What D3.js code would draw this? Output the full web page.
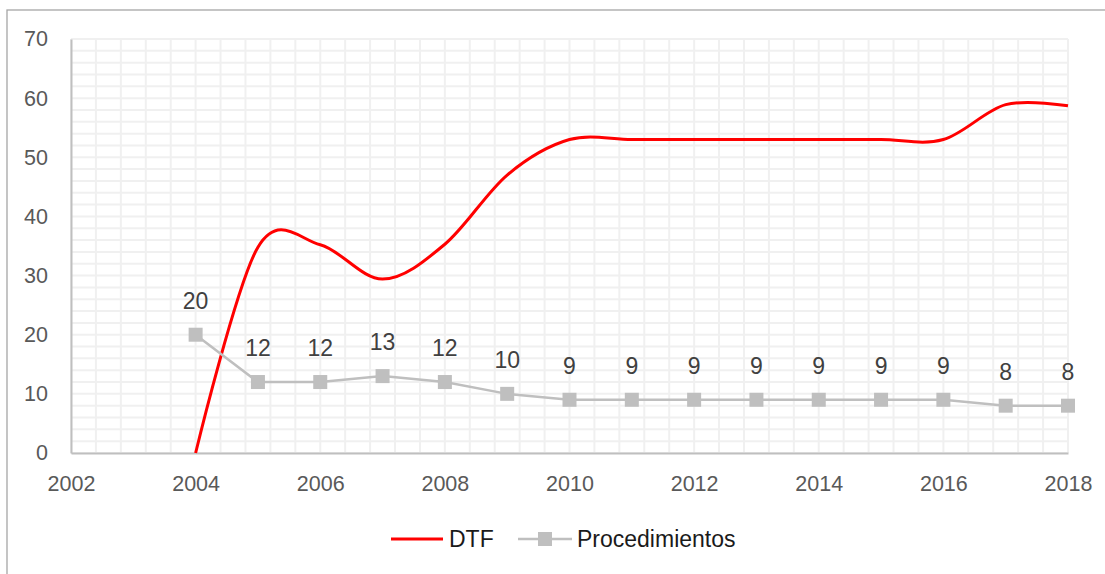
<!DOCTYPE html>
<html>
<head>
<meta charset="utf-8">
<script src="https://cdn.jsdelivr.net/npm/d3@7"></script>
<style>
  html, body { margin: 0; padding: 0; background: #fff; }
  svg { display: block; }
</style>
</head>
<body>
<svg id="chart" width="1105" height="574"></svg>
<script>
// Years shared by both series
const years = [2004, 2005, 2006, 2007, 2008, 2009, 2010, 2011, 2012, 2013, 2014, 2015, 2016, 2017, 2018];
// DTF series (smoothed line)
const dtf = [0, 34.8, 35.2, 29.4, 35.3, 47, 53, 53, 53, 53, 53, 53, 53, 58.9, 58.7];
// Número de procedimientos (labelled points)
const procedimientos = [20, 12, 12, 13, 12, 10, 9, 9, 9, 9, 9, 9, 9, 8, 8];
// Axis ticks
const xTicks = [2002, 2004, 2006, 2008, 2010, 2012, 2014, 2016, 2018];
const yTicks = [0, 10, 20, 30, 40, 50, 60, 70];
const seriesNames = ["DTF", "Procedimientos"];

const svg = d3.select("#chart");
const FONT = "'Liberation Sans', Arial, sans-serif";

// Outer chart frame
svg.append("rect")
  .attr("x", 7).attr("y", 10)
  .attr("width", 1120).attr("height", 620)
  .attr("fill", "#fff")
  .attr("stroke", "#a6a6a6").attr("stroke-width", 1.3);

const x = d3.scaleLinear().domain([2002, 2018]).range([71, 1068]);
const y = d3.scaleLinear().domain([0, 70]).range([453, 39]);

// Minor gridlines: every 0.4 year and every 2 units
const grid = svg.append("g").attr("stroke", "#f0f0f0").attr("stroke-width", 2);
grid.selectAll("line.v")
  .data(d3.range(0, 41).map(i => 2002 + i * 0.4))
  .join("line")
  .attr("x1", d => x(d)).attr("x2", d => x(d))
  .attr("y1", y(70)).attr("y2", y(0));
grid.selectAll("line.h")
  .data(d3.range(0, 36).map(i => i * 2))
  .join("line")
  .attr("x1", x(2002)).attr("x2", x(2018))
  .attr("y1", d => y(d)).attr("y2", d => y(d));

// Axes
const xAxis = svg.append("g")
  .attr("transform", `translate(0,${y(0)})`)
  .call(d3.axisBottom(x).tickValues(xTicks).tickFormat(d3.format("d")).tickSize(0).tickPadding(23));
const yAxis = svg.append("g")
  .attr("transform", `translate(${x(2002)},0)`)
  .call(d3.axisLeft(y).tickValues(yTicks).tickSize(0).tickPadding(23));
[xAxis, yAxis].forEach(a => {
  a.select(".domain").attr("stroke", "#bfbfbf").attr("stroke-width", 2);
  a.selectAll("text")
    .attr("font-family", FONT).attr("font-size", 21.5)
    .attr("fill", "#595959");
});

// DTF smoothed line
const dtfLine = d3.line()
  .x((d, i) => x(years[i]))
  .y(d => y(d))
  .curve(d3.curveCardinal.tension(0));
svg.append("path")
  .datum(dtf)
  .attr("fill", "none")
  .attr("stroke", "#ff0000")
  .attr("stroke-width", 3)
  .attr("d", dtfLine);

// Procedimientos line with square markers
const procLine = d3.line()
  .x((d, i) => x(years[i]))
  .y(d => y(d));
svg.append("path")
  .datum(procedimientos)
  .attr("fill", "none")
  .attr("stroke", "#bfbfbf")
  .attr("stroke-width", 2.5)
  .attr("d", procLine);

const ms = 14;
svg.selectAll("rect.marker")
  .data(procedimientos)
  .join("rect")
  .attr("class", "marker")
  .attr("x", (d, i) => x(years[i]) - ms / 2)
  .attr("y", d => y(d) - ms / 2)
  .attr("width", ms).attr("height", ms)
  .attr("fill", "#bfbfbf");

svg.selectAll("text.dlabel")
  .data(procedimientos)
  .join("text")
  .attr("class", "dlabel")
  .attr("x", (d, i) => x(years[i]))
  .attr("y", d => y(d) - 26)
  .attr("text-anchor", "middle")
  .attr("font-family", FONT).attr("font-size", 23)
  .attr("fill", "#404040")
  .text(d => d);

// Legend
const legY = 539;
const leg = svg.append("g");
leg.append("line")
  .attr("x1", 391).attr("x2", 443).attr("y1", legY).attr("y2", legY)
  .attr("stroke", "#ff0000").attr("stroke-width", 3);
leg.append("text")
  .attr("x", 449).attr("y", legY + 8)
  .attr("font-family", FONT).attr("font-size", 23).attr("fill", "#1a1a1a")
  .text(seriesNames[0]);
leg.append("line")
  .attr("x1", 518).attr("x2", 572).attr("y1", legY).attr("y2", legY)
  .attr("stroke", "#bfbfbf").attr("stroke-width", 2.5);
leg.append("rect")
  .attr("x", 545 - 7).attr("y", legY - 7)
  .attr("width", 14).attr("height", 14)
  .attr("fill", "#bfbfbf");
leg.append("text")
  .attr("x", 577).attr("y", legY + 8)
  .attr("font-family", FONT).attr("font-size", 23).attr("fill", "#1a1a1a")
  .text(seriesNames[1]);
</script>
</body>
</html>
